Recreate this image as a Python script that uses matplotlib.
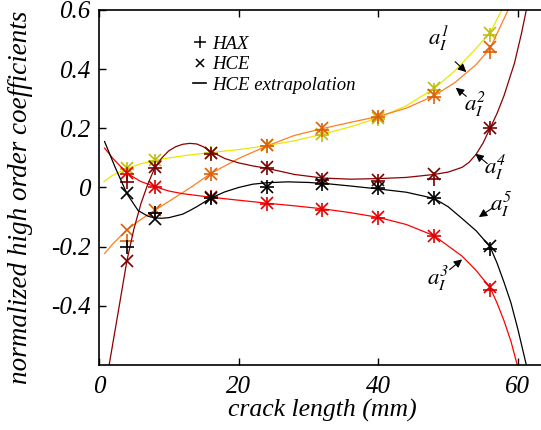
import matplotlib
matplotlib.use("Agg")
import matplotlib.pyplot as plt
from matplotlib.lines import Line2D

plt.rcParams['font.family'] = ['Liberation Serif', 'DejaVu Serif']
plt.rcParams['font.style'] = 'italic'
plt.rcParams['mathtext.fontset'] = 'stix'

# crack lengths where HAX / HCE were evaluated (mm)
crack = [4, 8, 16, 24, 32, 40, 48, 56]

# HCE values
a1_hce = [0.066, 0.092, 0.116, 0.142, 0.182, 0.235, 0.336, 0.523]
a2_hce = [-0.143, -0.075, 0.047, 0.142, 0.200, 0.241, 0.312, 0.476]
a3_hce = [0.048, 0.003, -0.033, -0.053, -0.072, -0.100, -0.163, -0.336]
a4_hce = [-0.247, 0.069, 0.118, 0.069, 0.033, 0.026, 0.046, 0.202]
a5_hce = [-0.020, -0.105, -0.036, 0.001, 0.012, -0.001, -0.036, -0.197]

# HAX values
a1_hax = [0.062, 0.088, 0.116, 0.140, 0.178, 0.232, 0.330, 0.515]
a2_hax = [-0.180, -0.085, 0.046, 0.140, 0.195, 0.238, 0.305, 0.459]
a3_hax = [0.045, 0.003, -0.033, -0.055, -0.075, -0.102, -0.165, -0.345]
a4_hax = [0.018, 0.065, 0.112, 0.066, 0.026, 0.022, 0.030, 0.200]
a5_hax = [-0.200, -0.085, -0.036, 0.001, 0.012, -0.001, -0.036, -0.207]

# HCE extrapolation curves
a1_ext_x = [0.7, 2, 4, 6, 8, 10, 13, 16, 20, 24, 28, 32, 36, 40, 44, 48, 51, 54, 56, 57.7]
a1_ext_y = [0.02, 0.042, 0.064, 0.08, 0.092, 0.1, 0.11, 0.118, 0.128, 0.141, 0.158, 0.18,
            0.205, 0.235, 0.276, 0.334, 0.395, 0.47, 0.523, 0.6]
a2_ext_x = [0.8, 2, 4, 6, 8, 10, 13, 16, 20, 24, 28, 32, 36, 40, 44, 48, 51, 54, 56, 58.6]
a2_ext_y = [-0.223, -0.19, -0.143, -0.108, -0.077, -0.047, -0.002, 0.047, 0.098, 0.14, 0.176,
            0.199, 0.22, 0.24, 0.268, 0.31, 0.355, 0.415, 0.47, 0.6]
a3_ext_x = [0.8, 2, 4, 6, 8, 10, 12, 14, 16, 20, 24, 28, 32, 36, 40, 44, 48, 52, 54, 56,
            57, 58, 59, 59.9]
a3_ext_y = [0.133, 0.098, 0.048, 0.02, 0.003, -0.012, -0.021, -0.027, -0.033, -0.043, -0.053,
            -0.062, -0.072, -0.085, -0.101, -0.125, -0.163, -0.232, -0.28, -0.338, -0.39,
            -0.45, -0.52, -0.6]
a4_ext_x = [1.45, 2, 3, 4, 5, 6, 7, 8, 9, 10, 11, 12, 13, 14, 15, 16, 18, 20, 22, 24, 28, 32,
            36, 40, 44, 48, 50, 52, 53, 54, 55, 56, 57, 58, 59.5, 60.5, 61.2]
a4_ext_y = [-0.6, -0.524, -0.386, -0.247, -0.14, -0.055, 0.012, 0.067, 0.1, 0.124, 0.138,
            0.146, 0.149, 0.147, 0.137, 0.122, 0.098, 0.083, 0.073, 0.065, 0.044, 0.032, 0.028,
            0.03, 0.034, 0.044, 0.052, 0.068, 0.085, 0.112, 0.15, 0.2, 0.25, 0.31, 0.42, 0.52,
            0.6]
a5_ext_x = [0.8, 2.3, 4, 5.6, 7, 8, 9, 10, 12, 13, 14, 16, 18, 20, 22, 24, 27, 30, 33, 36, 40,
            44, 48, 50, 52, 54, 56, 57, 58, 59, 60, 61.2]
a5_ext_y = [0.155, 0.069, -0.021, -0.078, -0.097, -0.103, -0.104, -0.102, -0.09, -0.078,
            -0.065, -0.036, -0.015, 0.0, 0.011, 0.016, 0.019, 0.017, 0.012, 0.005, -0.005,
            -0.016, -0.037, -0.065, -0.105, -0.146, -0.2, -0.255, -0.32, -0.39, -0.48, -0.6]

line_colors = ['#e8e800', '#ff7f1e', '#ff0000', '#8b0000', '#000000']
mark_colors = ['#bdbd10', '#e0600a', '#e00000', '#7a0000', '#000000']

fig = plt.figure(figsize=(5.41, 4.30), dpi=100)
ax = fig.add_axes([0.183, 0.151, 0.817, 0.826])

series = [
    (a1_ext_x, a1_ext_y, a1_hce, a1_hax),
    (a2_ext_x, a2_ext_y, a2_hce, a2_hax),
    (a3_ext_x, a3_ext_y, a3_hce, a3_hax),
    (a4_ext_x, a4_ext_y, a4_hce, a4_hax),
    (a5_ext_x, a5_ext_y, a5_hce, a5_hax),
]
for (ex, ey, hce, hax), lc, mc in zip(series, line_colors, mark_colors):
    ax.plot(ex, ey, '-', color=lc, lw=0.9)
    ax.plot(crack, hce, 'x', color=mc, ms=8, mew=1.2, ls='none')
    ax.plot(crack, hax, '+', color=mc, ms=10, mew=1.2, ls='none')

ax.set_xlim(0, 63.3)
ax.set_ylim(-0.6, 0.6)
ax.set_xticks([0, 20, 40, 60])
ax.set_xticklabels(['0', '20', '40', '60'], fontstyle='italic')
ax.set_yticks([-0.4, -0.2, 0, 0.2, 0.4, 0.6])
ax.set_yticklabels(['-0.4', '-0.2', '0', '0.2', '0.4', '0.6'], fontstyle='italic')
ax.tick_params(direction='in', length=5, width=1, labelsize=18, top=True, right=False)
ax.tick_params(axis='x', pad=8)
ax.tick_params(axis='y', pad=6)
ax.spines['right'].set_visible(False)
for s in ['left', 'bottom', 'top']:
    ax.spines[s].set_linewidth(1.2)

ax.set_xlabel('crack length (mm)', fontsize=18.5)
ax.set_ylabel('normalized high order coefficients', fontsize=19.5)
ax.xaxis.set_label_coords(0.506, -0.095)
ax.yaxis.set_label_coords(-0.15, 0.473)

handles = [
    Line2D([], [], marker='+', ls='none', color='k', ms=9, mew=1.1),
    Line2D([], [], marker='x', ls='none', color='k', ms=6, mew=1.1),
    Line2D([], [], ls='-', color='k', lw=1.2),
]
ax.legend(handles, ['HAX', 'HCE', 'HCE extrapolation'], loc='upper left',
          bbox_to_anchor=(0.175, 0.975), frameon=False, fontsize=13.5, handlelength=0.7,
          handletextpad=0.3, labelspacing=0.18)

# labels with arrows
arrow = dict(arrowstyle='-|>', color='k', lw=0.8, mutation_scale=12, shrinkA=0, shrinkB=0)
ann = [
    ('$a_I^1$', (48.6, 0.505), (51.0, 0.425), (52.6, 0.390)),
    ('$a_I^2$', (53.9, 0.280), (52.6, 0.308), (51.1, 0.337)),
    ('$a_I^4$', (56.8, 0.068), (55.6, 0.081), (53.9, 0.114)),
    ('$a_I^5$', (57.6, -0.058), (56.3, -0.070), (54.4, -0.100)),
    ('$a_I^3$', (48.5, -0.307), (50.2, -0.278), (52.0, -0.243)),
]
for txt, tpos, start, end in ann:
    ax.text(tpos[0], tpos[1], txt, fontsize=16.5, ha='center', va='center')
    ax.annotate('', xy=end, xytext=start, arrowprops=arrow)

fig.savefig('out.png', dpi=100)
